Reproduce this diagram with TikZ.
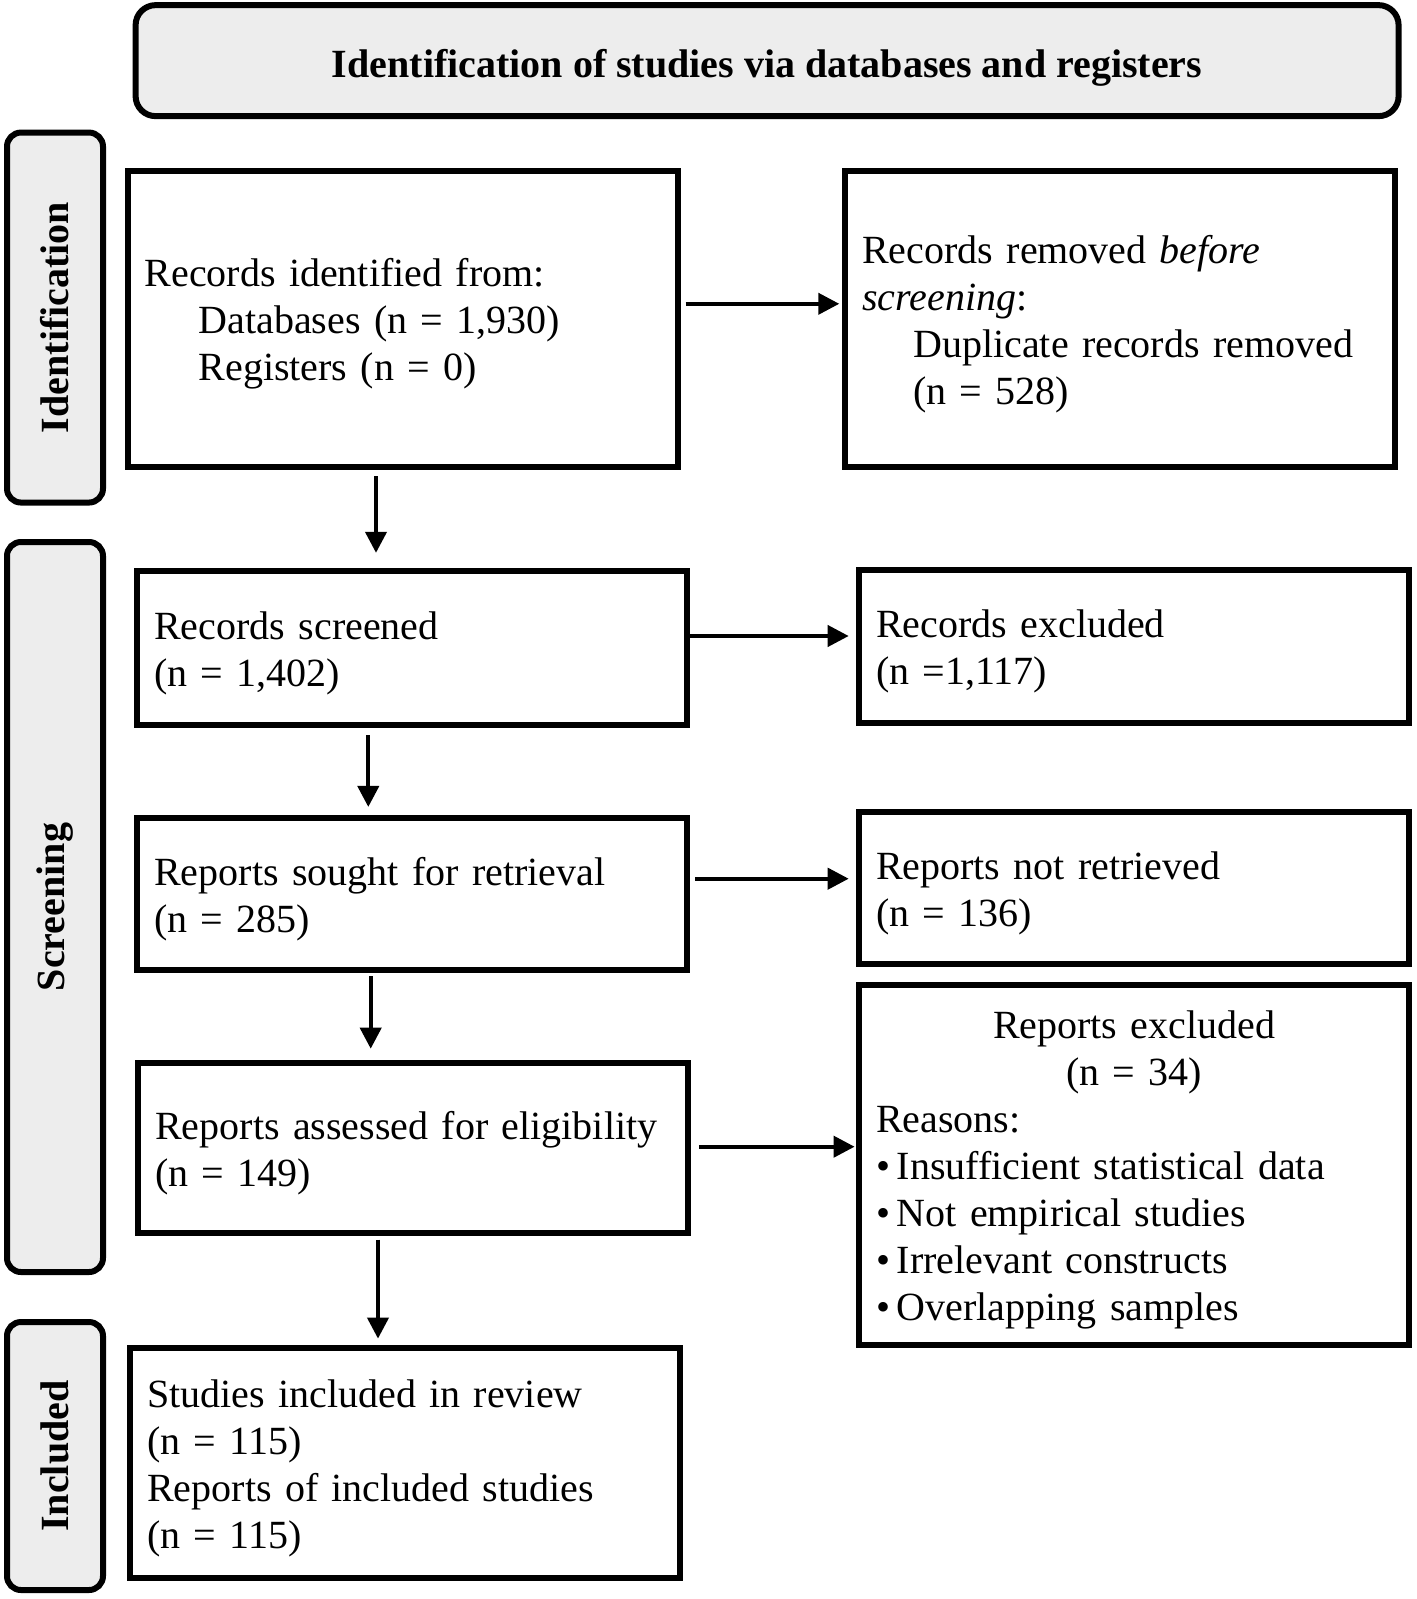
\documentclass[tikz,border=0pt]{standalone}
\usepackage{fontspec}
\setmainfont{Liberation Serif}
\usetikzlibrary{arrows.meta}
\setlength{\parindent}{0pt}
\begin{document}
\begin{tikzpicture}[x=0.5pt,y=-0.5pt,
  box/.style={draw, line width=3pt, rectangle, inner xsep=8.5pt, inner ysep=0pt,
    text width=258pt, text height=19.2pt, font=\fontsize{20}{23.5}\selectfont},
  lbox/.style={box, align=left},
  sidelab/.style={draw, line width=3pt, rounded corners=7pt, fill=black!7, rotate=90,
    minimum height=48pt, inner sep=0pt, font=\fontsize{20}{24}\selectfont\bfseries},
  hdr/.style={draw, line width=3pt, rounded corners=10pt, fill=black!7,
    minimum width=631.5pt, minimum height=55.5pt, text height=18pt, text depth=1pt,
    font=\fontsize{20}{24}\selectfont\bfseries},
  arr/.style={line width=2pt, -{Triangle[length=10.5pt,width=10.5pt]}}]
\useasboundingbox (0,0) rectangle (1417,1599);

% header
\node[hdr] (hd) at (767.1,60.65) {Identification of studies via databases and registers};

% side labels
\node[sidelab, minimum width=185pt] (sl1) at (55,317.55) {Identification};
\node[sidelab, minimum width=365pt] (sl2) at (55,907) {Screening};
\node[sidelab, minimum width=134pt] (sl3) at (55,1456) {Included};

% boxes
\node[lbox, minimum height=147.8pt] (idb) at (402.65,319.1)
  {Records identified from:\\\hspace*{27pt}Databases (n = 1,930)\\\hspace*{27pt}Registers (n = 0)};
\node[lbox, minimum height=147.8pt] (rem) at (1120.3,319.1)
  {Records removed \textit{before}\\\textit{screening}:\\\hspace*{25.5pt}Duplicate records removed\\\hspace*{25.5pt}(n = 528)};
\node[lbox, minimum height=77pt] (scr) at (412.3,647.85)
  {Records screened\\(n = 1,402)};
\node[lbox, minimum height=76.5pt] (exc) at (1134.1,646.3)
  {Records excluded\\(n =1,117)};
\node[lbox, minimum height=76pt] (sou) at (412.3,893.55)
  {Reports sought for retrieval\\(n = 285)};
\node[lbox, minimum height=76pt] (nrt) at (1134.1,888.45)
  {Reports not retrieved\\(n = 136)};
\node[lbox, minimum height=84.65pt] (ass) at (413.3,1147.85)
  {Reports assessed for eligibility\\(n = 149)};
\node[box, minimum height=180pt] (rex) at (1134.1,1164.65)
  {\centering Reports excluded\\(n = 34)\par
   \raggedright Reasons:\\
   •\,Insufficient statistical data\\
   •\,Not empirical studies\\
   •\,Irrelevant constructs\\
   •\,Overlapping samples};
\node[lbox, minimum height=115.2pt] (inc) at (405.25,1462.8)
  {Studies included in review\\(n = 115)\\Reports of included studies\\(n = 115)};

% helper coordinates
\coordinate (h1) at (0,303.8);
\coordinate (h2) at (0,636);
\coordinate (h3) at (0,878.7);
\coordinate (h4) at (0,1146.7);
\coordinate (v1) at (376,0);
\coordinate (v2) at (368.3,0);
\coordinate (v3) at (370.7,0);
\coordinate (v4) at (378,0);

% horizontal arrows
\draw[arr, shorten <=2.5pt, shorten >=1.5pt] (idb.east |- h1) -- (rem.west |- h1);
\draw[arr, shorten <=0pt, shorten >=3.7pt] (scr.east |- h2) -- (exc.west |- h2);
\draw[arr, shorten <=2.5pt, shorten >=3.7pt] (sou.east |- h3) -- (nrt.west |- h3);
\draw[arr, shorten <=3.8pt, shorten >=0.75pt] (ass.east |- h4) -- (rex.west |- h4);

% vertical arrows
\draw[arr, shorten <=3.2pt, shorten >=7.5pt] (idb.south -| v1) -- (scr.north -| v1);
\draw[arr, shorten <=3.6pt, shorten >=3.8pt] (scr.south -| v2) -- (sou.north -| v2);
\draw[arr, shorten <=1.75pt, shorten >=5.75pt] (sou.south -| v3) -- (ass.north -| v3);
\draw[arr, shorten <=2pt, shorten >=3pt] (ass.south -| v4) -- (inc.north -| v4);
\end{tikzpicture}
\end{document}
